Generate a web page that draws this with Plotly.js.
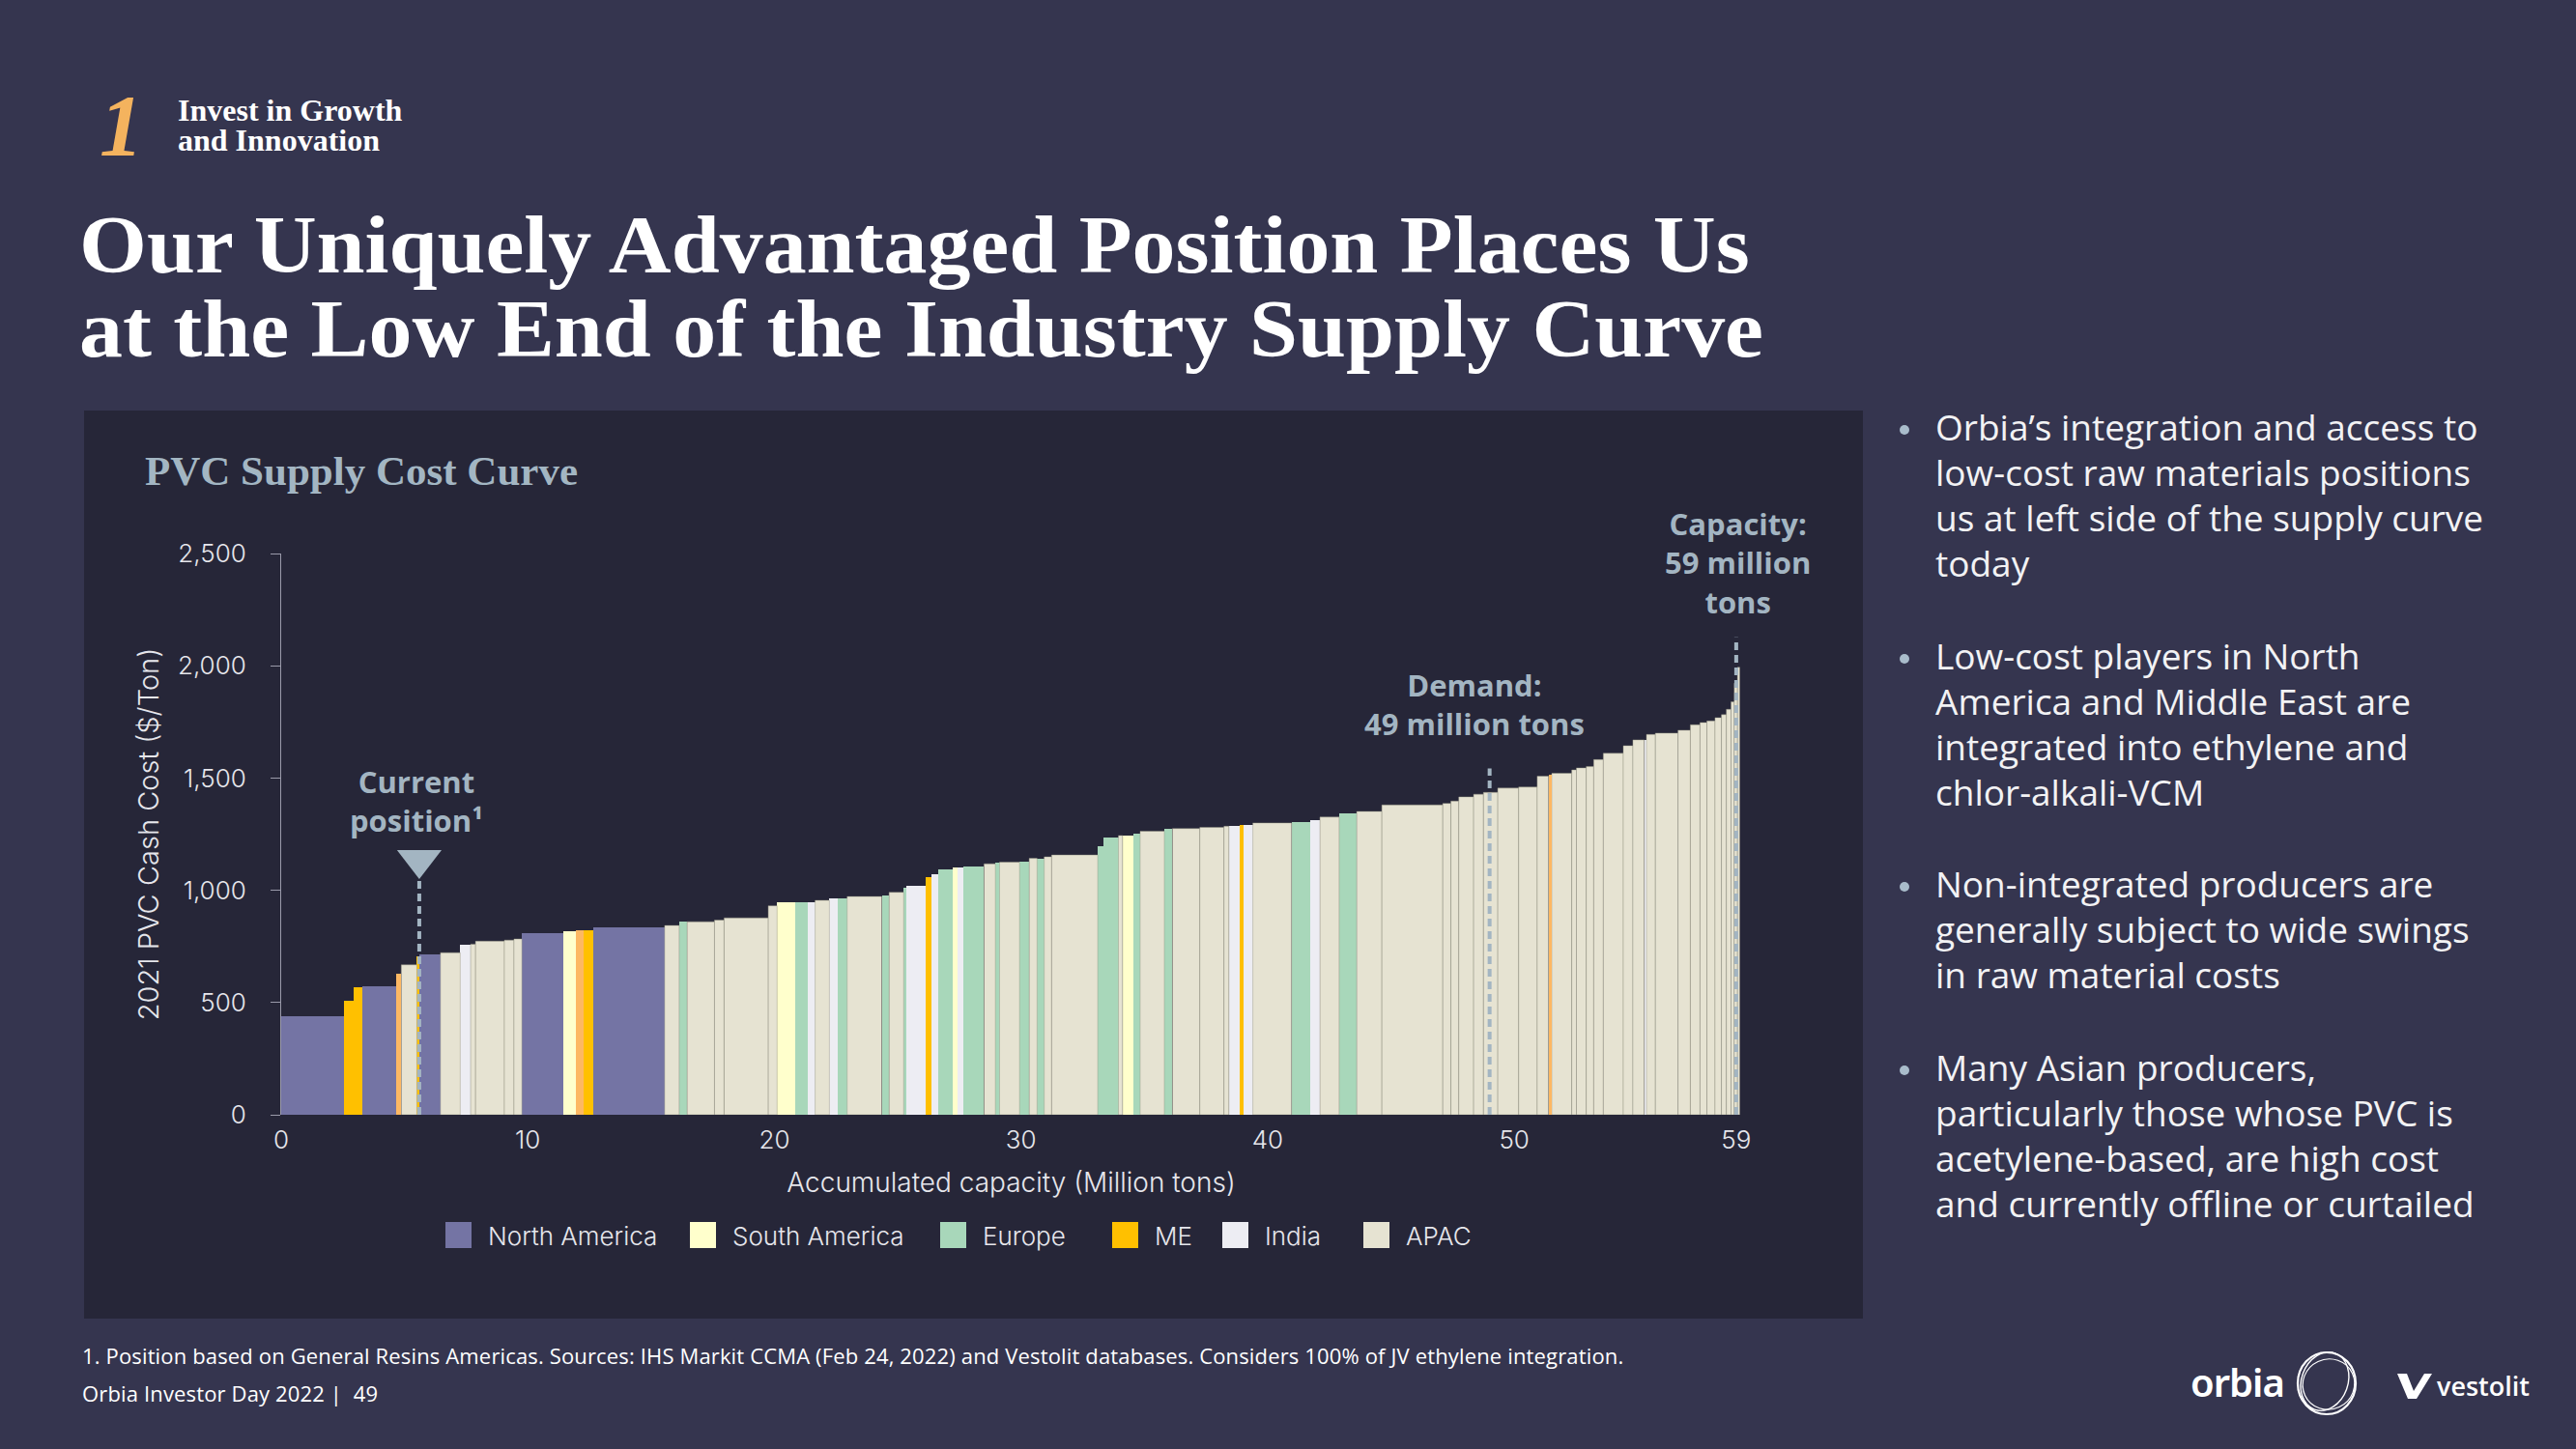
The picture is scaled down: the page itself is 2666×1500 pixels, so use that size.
<!DOCTYPE html>
<html>
<head>
<meta charset="utf-8">
<script src="https://cdn.plot.ly/plotly-3.0.1.min.js"></script>
<style>
html,body{margin:0;padding:0;width:2666px;height:1500px;overflow:hidden;background:#35354F;}
#slide{position:relative;width:2666px;height:1500px;background:#35354F;}
.abs{position:absolute;white-space:nowrap;}
#num{left:103px;top:86px;font-family:"Liberation Serif",serif;font-style:italic;font-weight:700;font-size:90px;line-height:90px;color:#F4B35E;}
#kicker{left:184px;top:99px;font-family:"Liberation Serif",serif;font-weight:700;font-size:32px;line-height:31px;color:#FFFFFF;}
#title{left:82px;top:210px;font-family:"Liberation Serif",serif;font-weight:700;font-size:84px;line-height:87px;color:#FFFFFF;transform:scaleX(1.07);transform-origin:0 0;}
.blk{left:2003px;font-family:"Open Sans",sans-serif;font-size:37px;line-height:47px;color:#F2F2F4;}
.dot{position:absolute;width:10px;height:10px;border-radius:5px;background:#A9BCCB;left:-37px;top:22px;}
.foot{left:85px;font-family:"Open Sans",sans-serif;font-size:22px;line-height:26px;color:#FFFFFF;letter-spacing:0.15px;}
#chart{position:absolute;left:87px;top:425px;width:1841px;height:940px;}
</style>
</head>
<body>
<div id="slide">
  <div class="abs" id="num">1</div>
  <div class="abs" id="kicker">Invest in Growth<br>and Innovation</div>
  <div class="abs" id="title">Our Uniquely Advantaged Position Places Us<br>at the Low End of the Industry Supply Curve</div>

  <div class="abs blk" style="top:418px;"><span class="dot"></span>Orbia’s integration and access to<br>low-cost raw materials positions<br>us at left side of the supply curve<br>today</div>
  <div class="abs blk" style="top:655px;"><span class="dot"></span>Low-cost players in North<br>America and Middle East are<br>integrated into ethylene and<br>chlor-alkali-VCM</div>
  <div class="abs blk" style="top:891px;"><span class="dot"></span>Non-integrated producers are<br>generally subject to wide swings<br>in raw material costs</div>
  <div class="abs blk" style="top:1081px;"><span class="dot"></span>Many Asian producers,<br>particularly those whose PVC is<br>acetylene-based, are high cost<br>and currently offline or curtailed</div>

  <div class="abs foot" style="top:1390px;">1. Position based on General Resins Americas. Sources: IHS Markit CCMA (Feb 24, 2022) and Vestolit databases. Considers 100% of JV ethylene integration.</div>
  <div class="abs foot" style="top:1429px;">Orbia Investor Day 2022 |&nbsp; 49</div>

  <div class="abs" style="left:2267px;top:1406px;font-family:'Noto Sans',sans-serif;font-weight:600;font-size:40px;line-height:50px;color:#FFFFFF;letter-spacing:-1px;">orbia</div>
  <svg class="abs" style="left:2372px;top:1392px;" width="72" height="78" viewBox="0 0 72 78">
    <ellipse cx="36" cy="40" rx="30" ry="32" fill="none" stroke="#FFFFFF" stroke-width="2.2"/>
    <ellipse cx="34" cy="38" rx="24" ry="31" fill="none" stroke="#FFFFFF" stroke-width="1.4" transform="rotate(20 34 38)"/>
    <ellipse cx="38" cy="41" rx="27" ry="26" fill="none" stroke="#FFFFFF" stroke-width="1.2" transform="rotate(-25 38 41)"/>
  </svg>
  <svg class="abs" style="left:2479px;top:1420px;" width="40" height="30" viewBox="0 0 40 30">
    <path d="M2 2 L12 2 L19 20 L30 2 L38 2 L22 28 L13 28 Z" fill="#FFFFFF"/>
  </svg>
  <div class="abs" style="left:2522px;top:1418px;font-family:'Open Sans',sans-serif;font-weight:600;font-size:27px;line-height:34px;color:#FFFFFF;">vestolit</div>

  <div id="chart"></div>
</div>

<script>
// ---- DATA ----
// capacity of each producer block (million tons), in curve order
const capacity = [2.56,0.39,0.33,1.37,0.22,0.63,0.12,0.84,0.80,0.42,
  0.20,1.17,0.39,0.32,1.68,0.52,0.29,0.39,2.91,0.59,
  0.32,1.11,0.39,1.79,0.36,0.75,0.50,0.29,0.58,0.33,
  0.39,1.40,0.30,0.59,0.10,0.81,0.20,0.30,0.58,0.20,
  0.22,0.85,0.46,0.17,0.81,0.39,0.32,0.29,0.30,1.87,
  0.22,0.62,0.17,0.43,0.28,0.98,0.33,1.11,0.98,0.20,
  0.45,0.16,0.36,1.57,0.76,0.39,0.78,0.71,1.02,2.47,
  0.33,0.32,0.60,0.40,0.58,0.85,0.75,0.46,0.13,0.81,
  0.19,0.40,0.30,0.39,0.81,0.39,0.46,0.09,0.36,0.92,
  0.50,0.39,0.28,0.33,0.26,0.20,0.19,0.13,0.13,0.09];
// 2021 PVC cash cost ($/ton)
const cost = [440,506,569,574,629,668,705,715,722,758,
  760,773,778,783,809,817,823,823,834,843,
  860,860,867,877,931,945,945,948,955,962,
  965,972,977,991,1013,1021,1060,1071,1093,1101,
  1101,1106,1118,1122,1125,1128,1142,1142,1149,1157,
  1195,1237,1244,1244,1254,1263,1275,1275,1280,1285,
  1288,1292,1292,1300,1302,1314,1326,1343,1351,1380,
  1387,1397,1416,1428,1436,1455,1460,1508,1513,1521,
  1536,1545,1551,1582,1610,1644,1670,1670,1694,1700,
  1713,1737,1747,1754,1769,1782,1806,1840,1922,1993];
// region of each block
const region = ['NA','ME','ME','NA','MO','AP','ME','NA','AP','IN',
  'AP','AP','AP','AP','NA','SA','MO','ME','NA','AP',
  'EU','AP','AP','AP','AP','SA','EU','IN','AP','IN',
  'EU','AP','EU','AP','EU','IN','ME','IN','EU','SA',
  'IN','EU','AP','EU','AP','EU','AP','EU','AP','AP',
  'EU','EU','AP','SA','EU','AP','EU','AP','AP','AP',
  'IN','ME','IN','AP','EU','IN','AP','EU','AP','AP',
  'AP','AP','AP','AP','AP','AP','AP','AP','MO','AP',
  'AP','AP','AP','AP','AP','AP','AP','IN','AP','AP',
  'AP','AP','AP','AP','AP','AP','AP','AP','AP','AP'];
const regionKeys   = ['NA','SA','EU','ME','IN','AP','MO'];
const regionLabels = ['North America','South America','Europe','ME','India','APAC','ME (other)'];
const legendKeys   = ['NA','SA','EU','ME','IN','AP'];
const xTickVals = [0,10,20,30,40,50,59];
const currentPosition = 5.6;   // million tons
const demand = 49;             // million tons
const totalCapacity = 59;      // million tons

// ---- STYLE ----
const regionColors = {NA:'#7474A4', SA:'#FFFFCC', EU:'#A8D7BA', ME:'#FFC000', IN:'#EDEDF3', AP:'#E6E3D2', MO:'#FDB863'};
const markerColor = '#A3B5C2';
const fontSans = 'Inter, "Open Sans", sans-serif';
const fontBold = '"Open Sans", sans-serif';

// left edges from cumulative capacity
const left = [];
let acc = 0;
for (let i = 0; i < capacity.length; i++) { left.push(acc); acc += capacity[i]; }

const traces = regionKeys.map((k, ri) => {
  const idx = region.map((r, i) => r === k ? i : -1).filter(i => i >= 0);
  return {
    type: 'bar',
    name: regionLabels[ri],
    x: idx.map(i => left[i] + capacity[i] / 2),
    y: idx.map(i => cost[i]),
    width: idx.map(i => capacity[i]),
    marker: {color: regionColors[k], line: {width: k === 'AP' ? 0.8 : 0, color: 'rgba(150,148,130,0.55)'}},
    showlegend: false,
    hovertemplate: regionLabels[ri] + ': %{y} $/t<extra></extra>'
  };
});

// current-position triangle
traces.push({
  type: 'scatter', mode: 'markers', x: [currentPosition], y: [1136],
  marker: {symbol: 'triangle-down', size: 40, color: markerColor},
  showlegend: false, hoverinfo: 'skip', cliponaxis: false
});

// geometry of plot area inside the chart div (div at slide 87,425)
const M = {l: 204, r: 126, t: 148, b: 211};
const W = 1841, H = 940;
const pw = W - M.l - M.r, ph = H - M.t - M.b;
const px2paperX = X => (X - 87 - M.l) / pw;          // slide px -> paper
const px2paperY = Y => (H - M.b - (Y - 425)) / ph;

// manual legend (large squares like the reference)
const legendSquareX = [461, 714, 973, 1151, 1265, 1411];
const shapes = [];
const annotations = [];
legendKeys.forEach((k, i) => {
  const x0 = legendSquareX[i];
  shapes.push({type: 'rect', xref: 'paper', yref: 'paper',
    x0: px2paperX(x0), x1: px2paperX(x0 + 27), y0: px2paperY(1292), y1: px2paperY(1265),
    fillcolor: regionColors[k], line: {width: 0}});
  annotations.push({xref: 'paper', yref: 'paper', x: px2paperX(x0 + 42), y: px2paperY(1279),
    xanchor: 'left', yanchor: 'middle', showarrow: false,
    text: regionLabels[regionKeys.indexOf(k)],
    font: {family: fontSans, size: 26, color: '#E6E6EC', weight: 300}});
});

// dashed reference lines
const dash = '8px,5px';
shapes.push({type: 'line', xref: 'x', yref: 'y', x0: currentPosition, x1: currentPosition, y0: 0, y1: 1050,
  line: {color: markerColor, width: 4, dash: dash}});
shapes.push({type: 'line', xref: 'x', yref: 'y', x0: demand, x1: demand, y0: 0, y1: 1543,
  line: {color: markerColor, width: 4, dash: dash}});
shapes.push({type: 'line', xref: 'x', yref: 'y', x0: totalCapacity, x1: totalCapacity, y0: 0, y1: 2127,
  line: {color: markerColor, width: 4, dash: dash}});

const labelFont = {family: fontBold, size: 31, color: markerColor, weight: 700};
annotations.push({xref: 'x', yref: 'y', x: 5.5, y: 1398, showarrow: false, xanchor: 'center', yanchor: 'middle',
  text: 'Current<br>position¹', font: labelFont});
annotations.push({xref: 'x', yref: 'y', x: 48.4, y: 1827, showarrow: false, xanchor: 'center', yanchor: 'middle',
  text: 'Demand:<br>' + demand + ' million tons', font: labelFont});
annotations.push({xref: 'x', yref: 'y', x: 59.07, y: 2461, showarrow: false, xanchor: 'center', yanchor: 'middle',
  text: 'Capacity:<br>' + totalCapacity + ' million<br>tons', font: labelFont});

const layout = {
  width: W, height: H,
  margin: M,
  paper_bgcolor: '#262638', plot_bgcolor: '#262638',
  barmode: 'overlay', bargap: 0,
  showlegend: false,
  title: {text: 'PVC Supply Cost Curve', xref: 'container', yref: 'container', x: 63 / W, xanchor: 'left',
    y: 1 - 62 / H, yanchor: 'middle',
    font: {family: '"Liberation Serif", serif', size: 43, color: '#A3B6C3', weight: 700}},
  xaxis: {range: [0, 59.2], tickvals: xTickVals, ticktext: xTickVals.map(String), ticks: '',
    showgrid: false, zeroline: false, showline: false, ticklabelstandoff: 8,
    tickfont: {family: fontSans, size: 26, color: '#E6E6EC', weight: 300},
    title: {text: 'Accumulated capacity (Million tons)', standoff: 20,
      font: {family: fontSans, size: 28, color: '#E6E6EC', weight: 300}}},
  yaxis: {range: [0, 2500], tickvals: [0, 500, 1000, 1500, 2000, 2500], tickformat: ',d',
    ticks: 'outside', ticklen: 10, tickcolor: '#9A9AAA', tickwidth: 1,
    showline: true, linecolor: '#9A9AAA', linewidth: 1, showgrid: false, zeroline: false,
    ticklabelstandoff: 20,
    tickfont: {family: fontSans, size: 26, color: '#E6E6EC', weight: 300},
    title: {text: '2021 PVC Cash Cost ($/Ton)', standoff: 10,
      font: {family: fontSans, size: 29, color: '#E6E6EC', weight: 300}}},
  shapes: shapes,
  annotations: annotations
};

Plotly.newPlot('chart', traces, layout, {displayModeBar: false, staticPlot: true});
</script>
</body>
</html>
